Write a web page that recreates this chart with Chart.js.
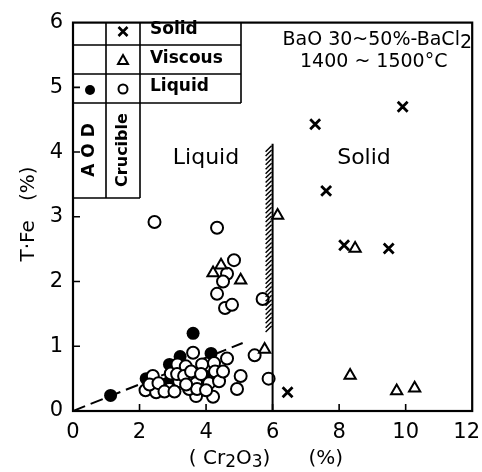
<!DOCTYPE html>
<html>
<head>
<meta charset="utf-8">
<script src="https://cdn.jsdelivr.net/npm/chart.js@4/dist/chart.umd.min.js"></script>
<style>
  html, body { margin: 0; padding: 0; background: #fff; }
  canvas { display: block; }
</style>
</head>
<body>
<canvas id="c" width="482" height="472"></canvas>
<script>
// Axis tick values
const xTicks = [0, 2, 4, 6, 8, 10, 12];
const yTicks = [0, 1, 2, 3, 4, 5, 6];

// Crucible, liquid slag (open circles): (Cr2O3) % vs T.Fe %
const liquidX = [2.45, 4.33, 4.84, 4.63, 4.51, 4.33, 4.57, 4.78, 5.70,
  5.46, 5.88, 5.04, 4.93, 4.63, 3.61, 4.21, 3.70,
  2.40, 2.18, 2.50, 2.30, 2.57, 2.90, 2.94, 3.14, 3.19, 3.13, 3.39, 3.34,
  3.49, 3.55, 3.70, 3.73, 3.88, 3.85, 4.09, 4.24, 4.27, 4.39, 4.51, 3.40,
  2.75, 3.05, 4.00];
const liquidY = [2.92, 2.83, 2.33, 2.12, 2.00, 1.81, 1.59, 1.64, 1.73,
  0.86, 0.50, 0.54, 0.34, 0.81, 0.90, 0.22, 0.23,
  0.54, 0.32, 0.29, 0.41, 0.43, 0.34, 0.58, 0.72, 0.46, 0.57, 0.69, 0.54,
  0.34, 0.61, 0.43, 0.34, 0.72, 0.57, 0.43, 0.74, 0.61, 0.46, 0.61, 0.41,
  0.30, 0.30, 0.32];

// AOD, liquid slag (filled circles)
const aodX = [1.13, 2.20, 2.84, 2.90, 3.22, 3.61, 4.15, 3.94, 3.30];
const aodY = [0.24, 0.50, 0.43, 0.72, 0.84, 1.20, 0.89, 0.55, 0.45];

// Crucible, viscous slag (triangles)
const viscousX = [4.45, 4.21, 5.04, 6.15, 5.76, 8.48, 8.33, 9.73, 10.27];
const viscousY = [2.25, 2.13, 2.02, 3.02, 0.95, 2.51, 0.55, 0.31, 0.35];

// Crucible, solid slag (crosses)
const solidX = [9.91, 7.28, 7.61, 8.15, 9.49, 6.45];
const solidY = [4.70, 4.43, 3.40, 2.56, 2.51, 0.29];

// Trend line through the liquid region
const trendX = [0, 5.1];
const trendY = [0, 1.05];

// Liquid / solid boundary at (Cr2O3) = 6 %
const boundaryX = 6;
const boundaryTop = 4.13;
const hatchBottom = 1.22;

const pts = (xs, ys) => xs.map((x, i) => ({ x: x, y: ys[i] }));

const FONT = '"DejaVu Sans", sans-serif';

const decorPlugin = {
  id: 'decor',
  afterDatasetsDraw(chart) {
    const ctx = chart.ctx;
    const a = chart.chartArea;
    const xs = chart.scales.x, ys = chart.scales.y;
    ctx.save();
    ctx.strokeStyle = '#000';
    ctx.fillStyle = '#000';

    // frame
    ctx.lineWidth = 2.2;
    ctx.strokeRect(a.left, a.top, a.right - a.left, a.bottom - a.top);

    // inward tick marks
    ctx.lineWidth = 1.6;
    ctx.beginPath();
    yTicks.forEach(v => {
      if (v <= 0 || v >= 6) return;
      const py = ys.getPixelForValue(v);
      ctx.moveTo(a.left, py); ctx.lineTo(a.left + 7, py);
    });
    xTicks.forEach(v => {
      if (v <= 0 || v >= 12) return;
      const px = xs.getPixelForValue(v);
      ctx.moveTo(px, a.bottom); ctx.lineTo(px, a.bottom - 7);
    });
    ctx.stroke();

    // x tick labels
    ctx.font = '21px ' + FONT;
    ctx.textAlign = 'center';
    ctx.textBaseline = 'middle';
    xs.ticks.forEach(t => {
      const lbl = String(t.value);
      let px = xs.getPixelForValue(t.value);
      const w = ctx.measureText(lbl).width;
      if (px + w / 2 > 480) px = 480 - w / 2;
      ctx.fillText(lbl, px, 433);
    });

    // x axis title with subscripts
    const drawRun = (parts, startX, y) => {
      let x = startX;
      parts.forEach(p => {
        ctx.font = p.size + 'px ' + FONT;
        ctx.textAlign = 'left';
        ctx.fillText(p.t, x, y + (p.dy || 0));
        x += ctx.measureText(p.t).width;
      });
      return x;
    };
    const measureRun = parts => parts.reduce((s, p) => {
      ctx.font = p.size + 'px ' + FONT;
      return s + ctx.measureText(p.t).width;
    }, 0);
    ctx.textBaseline = 'middle';
    const xTitle = [
      { t: '( Cr', size: 20 }, { t: '2', size: 17, dy: 4 }, { t: 'O', size: 20 },
      { t: '3', size: 17, dy: 4 }, { t: ')      (%)', size: 20 }
    ];
    drawRun(xTitle, 266 - measureRun(xTitle) / 2, 459);

    // y axis title
    ctx.save();
    ctx.translate(29, 214);
    ctx.rotate(-Math.PI / 2);
    ctx.font = '20px ' + FONT;
    ctx.textAlign = 'center';
    ctx.fillText('T\u00b7Fe   (%)', 0, 0);
    ctx.restore();

    // boundary line with hatching on the liquid side
    const bx = xs.getPixelForValue(boundaryX);
    const bTop = ys.getPixelForValue(boundaryTop);
    const hBot = ys.getPixelForValue(hatchBottom);
    ctx.lineWidth = 2;
    ctx.beginPath();
    ctx.moveTo(bx, bTop); ctx.lineTo(bx, a.bottom);
    ctx.stroke();
    ctx.lineWidth = 1.4;
    ctx.beginPath();
    for (let y = bTop + 4; y <= hBot; y += 4.4) {
      ctx.moveTo(bx - 7, y + 4); ctx.lineTo(bx - 1, y - 2);
    }
    ctx.stroke();

    // legend table
    ctx.lineWidth = 1.6;
    ctx.beginPath();
    const c1 = 106, c2 = 140, c3 = 241;
    const r0 = a.top, r1 = 45, r2 = 74, r3 = 103, rb = 198;
    ctx.moveTo(c1, r0); ctx.lineTo(c1, rb);
    ctx.moveTo(c2, r0); ctx.lineTo(c2, rb);
    ctx.moveTo(c3, r0); ctx.lineTo(c3, r3);
    [r1, r2, r3].forEach(r => { ctx.moveTo(a.left, r); ctx.lineTo(c3, r); });
    ctx.moveTo(a.left, rb); ctx.lineTo(c2, rb);
    ctx.stroke();

    // legend markers
    const mx = 123;
    ctx.lineWidth = 2.6;
    ctx.beginPath();
    ctx.moveTo(mx - 4.5, 27); ctx.lineTo(mx + 4.5, 36);
    ctx.moveTo(mx + 4.5, 27); ctx.lineTo(mx - 4.5, 36);
    ctx.stroke();
    ctx.lineWidth = 2;
    ctx.beginPath();
    ctx.moveTo(mx, 55); ctx.lineTo(mx + 5, 64); ctx.lineTo(mx - 5, 64); ctx.closePath();
    ctx.stroke();
    ctx.beginPath();
    ctx.arc(mx, 89, 4.5, 0, Math.PI * 2);
    ctx.stroke();
    ctx.beginPath();
    ctx.arc(90, 90, 5, 0, Math.PI * 2);
    ctx.fill();

    // legend labels
    ctx.font = 'bold 17px ' + FONT;
    ctx.textAlign = 'left';
    ctx.textBaseline = 'middle';
    ctx.fillText('Solid', 150, 30);
    ctx.fillText('Viscous', 150, 59);
    ctx.fillText('Liquid', 150, 87);

    ctx.save();
    ctx.translate(90, 150);
    ctx.rotate(-Math.PI / 2);
    ctx.font = 'bold 17px ' + FONT;
    ctx.textAlign = 'center';
    ctx.fillText('A O D', 0, 0);
    ctx.restore();
    ctx.save();
    ctx.translate(123, 150);
    ctx.rotate(-Math.PI / 2);
    ctx.font = 'bold 16px ' + FONT;
    ctx.textAlign = 'center';
    ctx.fillText('Crucible', 0, 0);
    ctx.restore();

    // region labels
    ctx.font = '22px ' + FONT;
    ctx.textAlign = 'center';
    ctx.fillText('Liquid', 206, 158);
    ctx.fillText('Solid', 364, 158);

    // condition note
    const note1 = [{ t: 'BaO 30~50%-BaCl', size: 19 }, { t: '2', size: 19, dy: 3 }];
    drawRun(note1, 472 - measureRun(note1), 40);
    ctx.font = '19px ' + FONT;
    ctx.textAlign = 'left';
    ctx.fillText('1400 ~ 1500\u00b0C', 300, 62);

    ctx.restore();
  }
};

new Chart(document.getElementById('c'), {
  type: 'scatter',
  data: {
    datasets: [
      {
        type: 'line', data: pts(trendX, trendY), order: 10,
        borderColor: '#000', borderWidth: 2, borderDash: [13, 6],
        pointRadius: 0, fill: false
      },
      {
        label: 'AOD Liquid', data: pts(aodX, aodY), order: 4,
        pointStyle: 'circle', pointRadius: 6.5, borderWidth: 0,
        backgroundColor: '#000', borderColor: '#000'
      },
      {
        label: 'Crucible Liquid', data: pts(liquidX, liquidY), order: 3,
        pointStyle: 'circle', pointRadius: 6, borderWidth: 2,
        backgroundColor: '#fff', borderColor: '#000'
      },
      {
        label: 'Viscous', data: pts(viscousX, viscousY), order: 2,
        pointStyle: 'triangle', pointRadius: 6.5, borderWidth: 2,
        backgroundColor: '#fff', borderColor: '#000'
      },
      {
        label: 'Solid', data: pts(solidX, solidY), order: 1,
        pointStyle: 'crossRot', pointRadius: 7, borderWidth: 2.8,
        borderColor: '#000'
      }
    ]
  },
  options: {
    responsive: false,
    animation: false,
    events: [],
    layout: { padding: { top: 18, right: 6, left: 0, bottom: 0 } },
    plugins: { legend: { display: false }, tooltip: { enabled: false } },
    scales: {
      x: {
        type: 'linear', min: 0, max: 12,
        ticks: { stepSize: 2, display: false },
        grid: { display: false }, border: { display: false },
        afterFit(s) { s.height = 61; s.paddingLeft = 0; s.paddingRight = 0; }
      },
      y: {
        type: 'linear', min: 0, max: 6,
        ticks: { stepSize: 1, padding: 10, color: '#000', font: { family: FONT, size: 21 } },
        grid: { display: false, drawTicks: false }, border: { display: false },
        afterFit(s) { s.width = 73; }
      }
    }
  },
  plugins: [decorPlugin]
});
</script>
</body>
</html>
